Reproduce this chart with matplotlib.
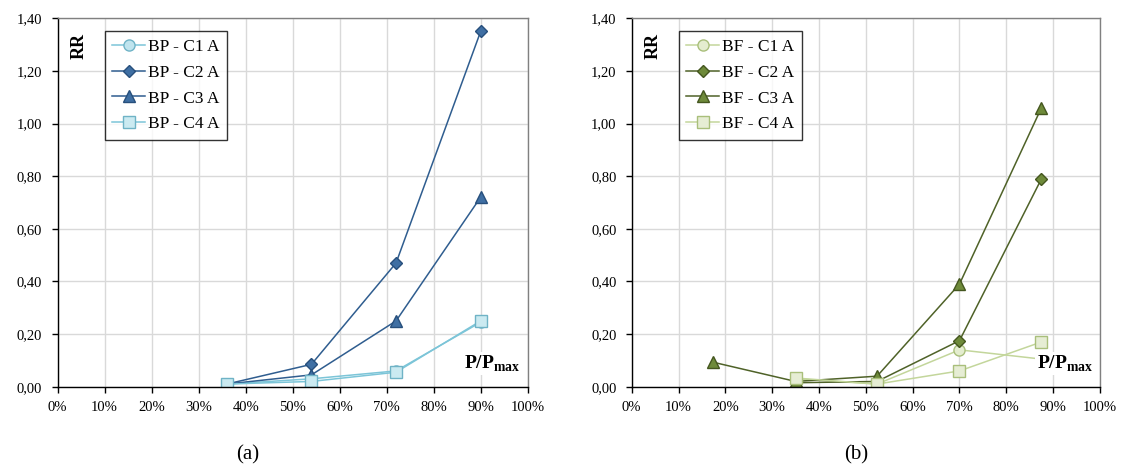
import matplotlib
matplotlib.use("Agg")
import matplotlib.pyplot as plt
from matplotlib.ticker import FuncFormatter, MultipleLocator

plt.rcParams['font.family'] = ['Liberation Serif', 'DejaVu Serif']
plt.rcParams['mathtext.fontset'] = 'custom'
plt.rcParams['mathtext.rm'] = 'Liberation Serif'
plt.rcParams['mathtext.bf'] = 'Liberation Serif:bold'

# ---- data (a) BP ----
bp_labels = ["BP - C1 A", "BP - C2 A", "BP - C3 A", "BP - C4 A"]
bp_x = [36, 54, 72, 90]
bp_c1 = [0.01, 0.03, 0.06, 0.245]
bp_c2 = [0.01, 0.085, 0.47, 1.35]
bp_c3 = [0.01, 0.045, 0.25, 0.72]
bp_c4 = [0.01, 0.02, 0.055, 0.25]

# ---- data (b) BF ----
bf_labels = ["BF - C1 A", "BF - C2 A", "BF - C3 A", "BF - C4 A"]
bf_x = [35, 52.4, 70, 87.5]
bf_x_c3 = [17.4, 35, 52.4, 70, 87.5]
bf_c1 = [0.03, 0.01, 0.14, 0.105]
bf_c2 = [0.015, 0.02, 0.175, 0.79]
bf_c3 = [0.093, 0.02, 0.04, 0.39, 1.06]
bf_c4 = [0.033, 0.01, 0.06, 0.17]

xticks = list(range(0, 101, 10))

fig = plt.figure(figsize=(11.26, 4.76), dpi=100)
axA = fig.add_axes([0.0512, 0.1876, 0.4174, 0.774])
axB = fig.add_axes([0.561, 0.1876, 0.4159, 0.774])

blue_dark = "#2F5D8F"
blue_light = "#7CC5D8"
green_dark = "#4F6228"
green_light = "#C3D69B"

def style(ax):
    ax.set_xlim(0, 100)
    ax.set_ylim(0, 1.40)
    ax.set_xticks(xticks)
    ax.xaxis.set_major_formatter(FuncFormatter(lambda v, p: f"{int(round(v))}%"))
    ax.yaxis.set_major_locator(MultipleLocator(0.2))
    ax.yaxis.set_major_formatter(FuncFormatter(lambda v, p: f"{v:.2f}".replace(".", ",")))
    ax.grid(True, color="#D9D9D9", linewidth=1.0)
    ax.set_axisbelow(True)
    for s in ["top", "right"]:
        ax.spines[s].set_color("#808080")
        ax.spines[s].set_linewidth(1.0)
    for s in ["left", "bottom"]:
        ax.spines[s].set_color("black")
        ax.spines[s].set_linewidth(1.0)
    ax.tick_params(direction="out", length=4, width=1, labelsize=10.5, color="black")
    ax.tick_params(axis="x", pad=6)
    ax.tick_params(axis="y", pad=7)
    ax.text(0.045, 0.925, "RR", transform=ax.transAxes, rotation=90,
            fontsize=13, fontweight="bold", ha="center", va="center")
    ax.text(0.985, 0.035, r"$\mathbf{P/P}_{\mathbf{max}}$", transform=ax.transAxes,
            fontsize=14, ha="right", va="bottom", zorder=10,
            bbox=dict(facecolor="white", edgecolor="none", pad=1))

style(axA)
style(axB)

lw = 1.1
axA.plot(bp_x, bp_c1, color=blue_light, lw=lw, marker="o", ms=8,
         mfc="#BFE4EE", mec="#6FB3C6", mew=1, label=bp_labels[0])
axA.plot(bp_x, bp_c2, color=blue_dark, lw=lw, marker="D", ms=6.5,
         mfc="#3F6FA3", mec="#274F7C", mew=1, label=bp_labels[1])
axA.plot(bp_x, bp_c3, color=blue_dark, lw=lw, marker="^", ms=8.5,
         mfc="#3F6FA3", mec="#274F7C", mew=1, label=bp_labels[2])
axA.plot(bp_x, bp_c4, color=blue_light, lw=lw, marker="s", ms=8.5,
         mfc="#CBEAF1", mec="#6FB3C6", mew=1, label=bp_labels[3])

axB.plot(bf_x, bf_c1, color=green_light, lw=lw, marker="o", ms=8,
         mfc="#E4EDCF", mec="#A9BF7B", mew=1, label=bf_labels[0])
axB.plot(bf_x, bf_c2, color=green_dark, lw=lw, marker="D", ms=6.5,
         mfc="#6E8A3A", mec="#44561F", mew=1, label=bf_labels[1])
axB.plot(bf_x_c3, bf_c3, color=green_dark, lw=lw, marker="^", ms=8.5,
         mfc="#6E8A3A", mec="#44561F", mew=1, label=bf_labels[2])
axB.plot(bf_x, bf_c4, color=green_light, lw=lw, marker="s", ms=8.5,
         mfc="#E6EDD4", mec="#A9BF7B", mew=1, label=bf_labels[3])

for ax in (axA, axB):
    leg = ax.legend(loc="upper left", bbox_to_anchor=(0.1, 0.965), fontsize=12.5,
                    frameon=True, fancybox=False, shadow=False, handlelength=1.9,
                    handletextpad=0.15, labelspacing=0.55, borderpad=0.45,
                    borderaxespad=0)
    leg.get_frame().set_edgecolor("black")
    leg.get_frame().set_linewidth(1.0)

fig.text(248 / 1126, 1 - 455 / 476, "(a)", fontsize=15, ha="center", va="center")
fig.text(856 / 1126, 1 - 455 / 476, "(b)", fontsize=15, ha="center", va="center")

fig.savefig("out.png", dpi=100)
